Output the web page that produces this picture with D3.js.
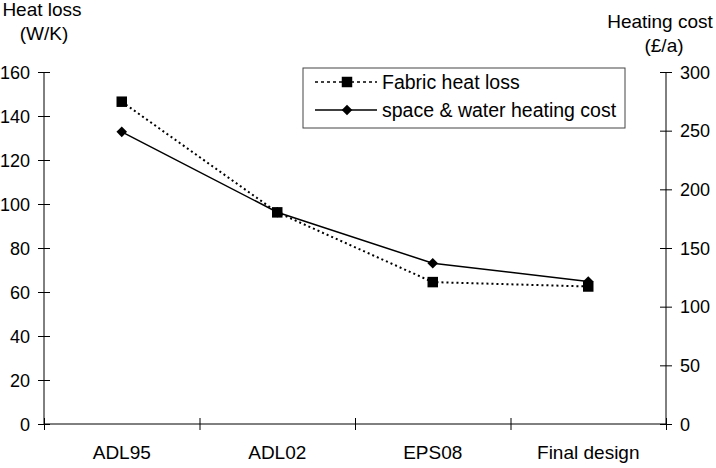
<!DOCTYPE html>
<html>
<head>
<meta charset="utf-8">
<script src="https://cdn.jsdelivr.net/npm/d3@7"></script>
<style>
  body { margin: 0; background: #fff; }
  text { font-family: "Liberation Sans", Arial, sans-serif; fill: #000; }
</style>
</head>
<body>
<div id="chart"></div>
<script>
const categories = ['ADL95', 'ADL02', 'EPS08', 'Final design'];
const fabricHeatLoss = [146.5, 96.2, 64.5, 62.5];
const heatingCost = [249, 180.5, 137, 121.5];
const leftTicks = [0, 20, 40, 60, 80, 100, 120, 140, 160];
const rightTicks = [0, 50, 100, 150, 200, 250, 300];

const width = 716;
const height = 468;
const margin = { top: 72, right: 50, bottom: 44, left: 44 };
const innerW = width - margin.left - margin.right;
const innerH = height - margin.top - margin.bottom;

const svg = d3.select("#chart")
    .append("svg")
    .attr("width", width)
    .attr("height", height);

const g = svg.append("g")
    .attr("transform", `translate(${margin.left}, ${margin.top})`);

// scales
const x = d3.scaleBand().domain(categories).range([0, innerW]);
const xEdge = d3.scaleLinear().domain([0, categories.length]).range([0, innerW]);
const yLeft = d3.scaleLinear().domain([0, 160]).range([innerH, 0]);
const yRight = d3.scaleLinear().domain([0, 300]).range([innerH, 0]);

// left axis, ticks cross the line
const leftAxis = g.append("g")
    .call(d3.axisLeft(yLeft).tickValues(leftTicks).tickSize(6).tickPadding(8));
leftAxis.selectAll(".tick line").attr("x1", 6);
leftAxis.selectAll("text").style("font-size", "18px").attr("dy", "0.35em");

// right axis
const rightAxis = g.append("g")
    .attr("transform", `translate(${innerW}, 0)`)
    .call(d3.axisRight(yRight).tickValues(rightTicks).tickSize(6).tickPadding(8));
rightAxis.selectAll(".tick line").attr("x1", -6);
rightAxis.selectAll("text").style("font-size", "18px").attr("dy", "0.35em");

// bottom axis: tick marks between categories
const bottomAxis = g.append("g")
    .attr("transform", `translate(0, ${innerH})`)
    .call(d3.axisBottom(xEdge).tickValues(d3.range(categories.length + 1)).tickFormat("").tickSize(6));
bottomAxis.selectAll(".tick line").attr("y1", -6);

g.append("g")
    .attr("transform", `translate(0, ${innerH})`)
    .call(d3.axisBottom(x).tickSize(0).tickPadding(22))
    .call(a => a.select(".domain").remove())
    .selectAll("text").style("font-size", "19px");

[leftAxis, rightAxis, bottomAxis].forEach(a => a.selectAll("path.domain").remove());

// plain axis lines
g.append("line").attr("x1", 0).attr("x2", 0).attr("y1", 0).attr("y2", innerH).attr("stroke", "#000");
g.append("line").attr("x1", innerW).attr("x2", innerW).attr("y1", 0).attr("y2", innerH).attr("stroke", "#000");
g.append("line").attr("x1", 0).attr("x2", innerW).attr("y1", innerH).attr("y2", innerH).attr("stroke", "#000");

// axis titles
svg.append("text").attr("x", 42).attr("y", 16).attr("text-anchor", "middle")
    .style("font-size", "19px").text("Heat loss");
svg.append("text").attr("x", 44).attr("y", 40).attr("text-anchor", "middle")
    .style("font-size", "19px").text("(W/K)");
svg.append("text").attr("x", 660).attr("y", 28).attr("text-anchor", "middle")
    .style("font-size", "19px").text("Heating cost");
svg.append("text").attr("x", 664).attr("y", 52).attr("text-anchor", "middle")
    .style("font-size", "19px").text("(£/a)");

// lines
const fabricLine = d3.line()
    .x((d, i) => x(categories[i]) + x.bandwidth() / 2)
    .y(d => yLeft(d));
const costLine = d3.line()
    .x((d, i) => x(categories[i]) + x.bandwidth() / 2)
    .y(d => yRight(d));

g.append("path")
    .datum(fabricHeatLoss)
    .attr("d", fabricLine)
    .attr("fill", "none")
    .attr("stroke", "#000")
    .attr("stroke-width", 2)
    .attr("stroke-dasharray", "2,3");

g.append("path")
    .datum(heatingCost)
    .attr("d", costLine)
    .attr("fill", "none")
    .attr("stroke", "#000")
    .attr("stroke-width", 1.5);

// square marker, and the same square turned 45 degrees for the diamond
const square = d3.symbol().type(d3.symbolSquare).size(110);
const diamond = d3.symbol().type(d3.symbolSquare).size(56);

g.selectAll(".sq")
    .data(fabricHeatLoss)
    .enter()
    .append("path")
    .attr("class", "sq")
    .attr("d", square)
    .attr("transform", (d, i) => `translate(${x(categories[i]) + x.bandwidth() / 2}, ${yLeft(d)})`)
    .attr("fill", "#000");

g.selectAll(".dm")
    .data(heatingCost)
    .enter()
    .append("path")
    .attr("class", "dm")
    .attr("d", diamond)
    .attr("transform", (d, i) => `translate(${x(categories[i]) + x.bandwidth() / 2}, ${yRight(d)}) rotate(45)`)
    .attr("fill", "#000");

// legend
const legend = svg.append("g").attr("transform", "translate(303, 68)");
legend.append("rect")
    .attr("width", 322).attr("height", 60)
    .attr("fill", "#fff").attr("stroke", "#444").attr("stroke-width", 1);

legend.append("line").attr("x1", 12).attr("x2", 74).attr("y1", 14).attr("y2", 14)
    .attr("stroke", "#000").attr("stroke-width", 1.5).attr("stroke-dasharray", "3,3");
legend.append("path").attr("d", square).attr("transform", "translate(44, 14)").attr("fill", "#000");
legend.append("text").attr("x", 79).attr("y", 14).attr("dy", "0.35em")
    .style("font-size", "19.5px").text("Fabric heat loss");

legend.append("line").attr("x1", 12).attr("x2", 74).attr("y1", 42).attr("y2", 42)
    .attr("stroke", "#000").attr("stroke-width", 1.5);
legend.append("path").attr("d", diamond).attr("transform", "translate(44, 42) rotate(45)").attr("fill", "#000");
legend.append("text").attr("x", 79).attr("y", 42).attr("dy", "0.35em")
    .style("font-size", "19.5px").text("space & water heating cost");
</script>
</body>
</html>
